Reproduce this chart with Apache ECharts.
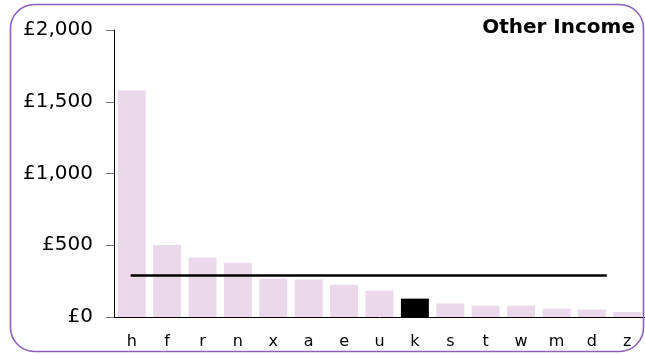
<!DOCTYPE html>
<html>
<head>
<meta charset="utf-8">
<script src="https://cdn.jsdelivr.net/npm/echarts@6/dist/echarts.min.js"></script>
<style>
html,body{margin:0;padding:0;background:#fff;}
#chart{width:645px;height:354px;}
</style>
</head>
<body>
<div id="chart"></div>
<script>
var categories = ['h','f','r','n','x','a','e','u','k','s','t','w','m','d','z'];
var values = [1580, 502, 415, 378, 267, 262, 225, 183, 128, 95, 79, 79, 58, 51, 35];
var highlightCategory = 'k';
var averageValue = 290;
var averageSpan = [0.47, 13.92];
var yTicks = [0, 500, 1000, 1500, 2000];
var titleText = 'Other Income';

var barColor = '#ebd9eb';
var barData = values.map(function (v, i) {
  return categories[i] === highlightCategory
    ? { value: v, itemStyle: { color: '#000000' } }
    : v;
});

var chart = echarts.init(document.getElementById('chart'));
chart.setOption({
  animation: false,
  backgroundColor: '#ffffff',
  textStyle: { fontFamily: 'DejaVu Sans' },
  graphic: [{
    type: 'rect',
    shape: { x: 10.5, y: 4.5, width: 633, height: 347, r: 24 },
    style: { fill: 'none', stroke: '#8d5fbd', lineWidth: 1.6 },
    z: 100
  }, {
    type: 'text',
    right: 10,
    top: 18,
    style: { text: titleText, font: 'bold 20px "DejaVu Sans"', fill: '#000' }
  }],
  grid: { left: 114, right: 0, top: 30, bottom: 37 },
  xAxis: [{
    type: 'category',
    data: categories,
    axisLine: { lineStyle: { color: '#000', width: 1 } },
    axisTick: { show: false },
    axisLabel: { color: '#000', fontSize: 16, margin: 17, fontFamily: 'DejaVu Sans' }
  }, {
    type: 'value',
    min: 0,
    max: categories.length,
    show: false
  }],
  yAxis: {
    type: 'value',
    min: yTicks[0],
    max: yTicks[yTicks.length - 1],
    interval: 500,
    splitLine: { show: false },
    axisLine: { show: true, lineStyle: { color: '#000', width: 1 } },
    axisTick: { show: true, length: 8, lineStyle: { color: '#777' } },
    axisLabel: {
      color: '#000', fontSize: 20, margin: 21, fontFamily: 'DejaVu Sans',
      formatter: function (v) { return '£' + v.toLocaleString('en-GB'); }
    }
  },
  series: [{
    type: 'bar',
    data: barData,
    barCategoryGap: '21%',
    itemStyle: { color: barColor },
    silent: true
  }, {
    type: 'line',
    xAxisIndex: 1,
    data: [[averageSpan[0], averageValue], [averageSpan[1], averageValue]],
    symbol: 'none',
    lineStyle: { color: '#000', width: 2.5 },
    z: 5,
    silent: true
  }]
});
</script>
</body>
</html>
